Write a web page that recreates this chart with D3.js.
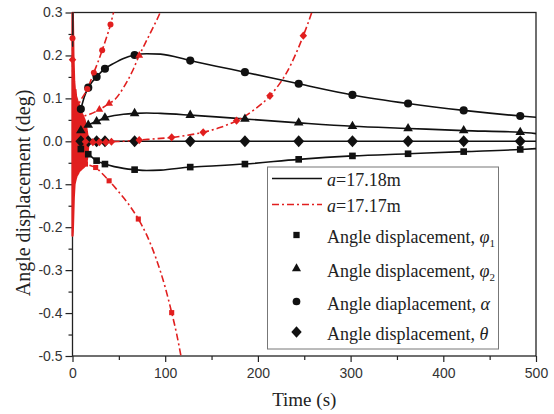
<!DOCTYPE html>
<html>
<head>
<meta charset="utf-8">
<script src="https://cdn.jsdelivr.net/npm/d3@7/dist/d3.min.js"></script>
<style>
  html, body { margin: 0; padding: 0; background: #fff; }
  svg { display: block; }
</style>
</head>
<body>
<svg id="chart" width="554" height="414"></svg>
<script>
// ---- axis ticks ----
const xTicks = [0, 100, 200, 300, 400, 500];
const xMinor = [50, 150, 250, 350, 450];
const yTicks = [-0.5, -0.4, -0.3, -0.2, -0.1, 0.0, 0.1, 0.2, 0.3];
const yMinor = [-0.45, -0.35, -0.25, -0.15, -0.05, 0.05, 0.15, 0.25];

// ---- a = 17.18 m (stable case), time in s, angles in deg ----
const timeB  = [0, 4, 9, 13, 17, 21, 26, 35, 45, 55, 67, 80, 95, 127, 155, 186, 244, 302, 362, 422, 483, 500];
const phi1B  = [0, -0.008, -0.018, -0.025, -0.030, -0.037, -0.045, -0.053, -0.059, -0.063, -0.066, -0.068, -0.067, -0.060, -0.057, -0.053, -0.042, -0.034, -0.029, -0.024, -0.019, -0.017];
const phi2B  = [0, 0.012, 0.025, 0.032, 0.038, 0.042, 0.046, 0.055, 0.060, 0.063, 0.065, 0.066, 0.065, 0.061, 0.057, 0.052, 0.043, 0.035, 0.030, 0.025, 0.021, 0.018];
const alphaB = [0, 0.035, 0.075, 0.105, 0.125, 0.138, 0.150, 0.169, 0.182, 0.193, 0.201, 0.204, 0.203, 0.188, 0.175, 0.161, 0.134, 0.108, 0.088, 0.072, 0.059, 0.056];
const thetaB = [0, 0, 0, 0, 0, 0, 0, 0, 0, 0, 0, 0, 0, 0, 0, 0, 0, 0, 0, 0, 0, 0];
const markB  = [2, 4, 6, 7, 10, 13, 15, 16, 17, 18, 19, 20];

// start-up transient of the stable case (peak just after t = 0)
const burstBT = [0.2, 0.35, 0.5];
const burstBV = [0.22, 0.33, 0.24];

// ---- a = 17.17 m (divergent case) ----
const timeRPhi1  = [3, 8, 14, 20, 25, 32, 39.5, 50, 60, 71, 80, 90, 100, 107, 112, 117, 120];
const phi1R      = [-0.045, -0.05, -0.053, -0.057, -0.061, -0.075, -0.092, -0.118, -0.145, -0.181, -0.218, -0.272, -0.34, -0.399, -0.445, -0.50, -0.535];
const markRPhi1  = [2, 4, 6, 9, 13];

const timeRPhi2  = [3, 8, 14, 20, 29, 39.5, 46, 55, 65, 72, 80, 88, 94, 99];
const phi2R      = [0.05, 0.055, 0.06, 0.064, 0.074, 0.088, 0.098, 0.125, 0.165, 0.200, 0.235, 0.27, 0.297, 0.325];
const markRPhi2  = [4, 5, 9];

const timeRAlpha = [0, 1, 5, 10, 16, 23, 27, 32, 37, 41, 44, 47];
const alphaR     = [0.24, 0.12, 0.085, 0.1, 0.122, 0.160, 0.182, 0.212, 0.244, 0.272, 0.298, 0.325];
const markRAlpha = [0, 4, 5, 7, 9];

const timeRTheta = [0, 2, 7, 14, 22, 29, 36, 42, 55, 72, 90, 107, 124, 141, 159, 177, 195, 213, 231, 249, 258, 263];
const thetaR     = [0.19, 0, 0, -0.001, -0.002, -0.002, -0.002, -0.001, 0, 0.003, 0.006, 0.009, 0.014, 0.021, 0.032, 0.048, 0.072, 0.106, 0.16, 0.246, 0.30, 0.335];
const markRTheta = [0, 3, 4, 5, 6, 7, 9, 11, 13, 15, 17, 19];

// envelope of the high-frequency start-up oscillation of the divergent case
const burstRT  = [0, 0.3, 0.6, 1.0, 1.4, 1.8, 2.2, 2.7, 3.2, 3.8, 4.5, 5.2, 6, 7, 8, 9, 10, 11, 12, 13, 14, 15, 16, 17];
const burstRHi = [0.33, 0.31, 0.26, 0.20, 0.17, 0.14, 0.13, 0.115, 0.12, 0.105, 0.1, 0.095, 0.09, 0.085, 0.075, 0.072, 0.065, 0.06, 0.055, 0.05, 0.04, 0.03, 0.015, 0.002];
const burstRLo = [-0.22, -0.21, -0.19, -0.16, -0.13, -0.115, -0.10, -0.095, -0.09, -0.085, -0.08, -0.078, -0.075, -0.07, -0.068, -0.066, -0.064, -0.062, -0.06, -0.058, -0.055, -0.05, -0.035, -0.01];

// ---- legend ----
const legendText = ["=17.18m", "=17.17m", "Angle displacement, ", "Angle displacement, ", "Angle diaplacement, ", "Angle displacement, "];

// ------------------------------------------------------------
const RED = "#e11f1f";
const svg = d3.select("#chart");
const x = d3.scaleLinear().domain([0, 500]).range([72.5, 536]);
const y = d3.scaleLinear().domain([-0.5, 0.3]).range([356, 12.5]);
const [x0, x1] = x.range();
const [yB, yT] = y.range();

const defs = svg.append("defs");
defs.append("clipPath").attr("id", "plotWide")
  .append("rect").attr("x", x0 - 6).attr("y", yT).attr("width", x1 - x0 + 6).attr("height", yB - yT);

// axes
const tickFont = "'Liberation Sans', Arial, sans-serif";
const fmt = d => d.toFixed(1);

const gx = svg.append("g").attr("transform", `translate(0,${yB})`)
  .call(d3.axisBottom(x).tickValues(xTicks).tickSize(6).tickSizeOuter(0).tickPadding(6).tickFormat(d3.format("d")));
const gxm = svg.append("g").attr("transform", `translate(0,${yB})`)
  .call(d3.axisBottom(x).tickValues(xMinor).tickSize(4).tickSizeOuter(0).tickFormat(""));
const gy = svg.append("g").attr("transform", `translate(${x0},0)`)
  .call(d3.axisLeft(y).tickValues(yTicks).tickSize(7).tickSizeOuter(0).tickPadding(3).tickFormat(fmt));
const gym = svg.append("g").attr("transform", `translate(${x0},0)`)
  .call(d3.axisLeft(y).tickValues(yMinor).tickSize(4).tickSizeOuter(0).tickFormat(""));
[gx, gxm, gy, gym].forEach(g => {
  g.select(".domain").remove();
  g.selectAll("line").attr("stroke", "#222").attr("stroke-width", 1.2);
  g.selectAll("text").attr("font-family", tickFont).attr("font-size", 14).attr("fill", "#333");
});

// frame
svg.append("rect").attr("x", x0).attr("y", yT).attr("width", x1 - x0).attr("height", yB - yT)
  .attr("fill", "none").attr("stroke", "#222").attr("stroke-width", 1.3);

// axis titles
const serif = "'Liberation Serif', 'Times New Roman', serif";
svg.append("text").attr("x", (x0 + x1) / 2).attr("y", 406).attr("text-anchor", "middle")
  .attr("font-family", serif).attr("font-size", 19).attr("fill", "#222").text("Time (s)");
svg.append("text").attr("transform", "translate(30,193) rotate(-90)").attr("text-anchor", "middle")
  .attr("font-family", serif).attr("font-size", 20).attr("fill", "#222").text("Angle displacement (deg)");

// symbols
const diamond = {
  draw(ctx, size) {
    const w = Math.sqrt(size / 2) * 1.0, h = Math.sqrt(size / 2) * 1.1;
    ctx.moveTo(0, -h); ctx.lineTo(w, 0); ctx.lineTo(0, h); ctx.lineTo(-w, 0); ctx.closePath();
  }
};
const symTypes = { phi1: d3.symbolSquare, phi2: d3.symbolTriangle, alpha: d3.symbolCircle, theta: diamond };
const symSizeB = { phi1: 44, phi2: 40, alpha: 52, theta: 60 };
const symSizeR = { phi1: 26, phi2: 26, alpha: 28, theta: 28 };

const line = d3.line().x(d => x(d[0])).y(d => y(d[1])).curve(d3.curveMonotoneX);
const zip = (t, v) => t.map((ti, i) => [ti, v[i]]);

const plot = svg.append("g").attr("clip-path", "url(#plotWide)");

// stable case lines
const blackSeries = [
  { key: "phi1", v: phi1B }, { key: "phi2", v: phi2B },
  { key: "alpha", v: alphaB }, { key: "theta", v: thetaB }
];
blackSeries.forEach(s => {
  plot.append("path").datum(zip(timeB, s.v)).attr("d", line)
    .attr("fill", "none").attr("stroke", "#111").attr("stroke-width", 1.6);
});

// red start-up oscillation band
const area = d3.area().x(d => x(d[0])).y0(d => y(d[2])).y1(d => y(d[1])).curve(d3.curveLinear);
plot.append("path")
  .datum(burstRT.map((t, i) => [t, burstRHi[i], burstRLo[i]]))
  .attr("d", area).attr("fill", RED).attr("stroke", RED).attr("stroke-width", 2.2).attr("stroke-linejoin", "round");

// divergent case lines
const redSeries = [
  { key: "phi1", t: timeRPhi1, v: phi1R, m: markRPhi1 },
  { key: "phi2", t: timeRPhi2, v: phi2R, m: markRPhi2 },
  { key: "alpha", t: timeRAlpha, v: alphaR, m: markRAlpha },
  { key: "theta", t: timeRTheta, v: thetaR, m: markRTheta }
];
redSeries.forEach(s => {
  plot.append("path").datum(zip(s.t, s.v)).attr("d", line)
    .attr("fill", "none").attr("stroke", RED).attr("stroke-width", 1.6)
    .attr("stroke-dasharray", "7,3,2,3");
});

// markers
const inRange = v => v >= -0.5 && v <= 0.3;
blackSeries.forEach(s => {
  markB.forEach(i => {
    if (!inRange(s.v[i])) return;
    svg.append("path")
      .attr("d", d3.symbol().type(symTypes[s.key]).size(symSizeB[s.key])())
      .attr("transform", `translate(${x(timeB[i])},${y(s.v[i])})`)
      .attr("fill", "#111");
  });
});
redSeries.forEach(s => {
  s.m.forEach(i => {
    if (!inRange(s.v[i])) return;
    svg.append("path")
      .attr("d", d3.symbol().type(symTypes[s.key]).size(symSizeR[s.key])())
      .attr("transform", `translate(${x(s.t[i])},${y(s.v[i])})`)
      .attr("fill", RED);
  });
});

// stable case start-up peak
plot.append("path").datum(zip(burstBT, burstBV)).attr("d", d3.line().x(d => x(d[0])).y(d => y(d[1])))
  .attr("fill", "none").attr("stroke", "#222").attr("stroke-width", 1.4);

// legend
const lg = svg.append("g");
lg.append("rect").attr("x", 267.5).attr("y", 167).attr("width", 231).attr("height", 182)
  .attr("fill", "#fff").attr("stroke", "#777").attr("stroke-width", 1);
const rowsY = [178.5, 204.5, 235, 268.5, 301.5, 332];
const textX = 327;
const keys = ["phi1", "phi2", "alpha", "theta"];
const greek = ["\u03C6", "\u03C6", "\u03B1", "\u03B8"];
const subs = ["1", "2", "", ""];

lg.append("line").attr("x1", 272).attr("x2", 322).attr("y1", rowsY[0]).attr("y2", rowsY[0])
  .attr("stroke", "#111").attr("stroke-width", 1.6);
lg.append("line").attr("x1", 272).attr("x2", 322).attr("y1", rowsY[1]).attr("y2", rowsY[1])
  .attr("stroke", RED).attr("stroke-width", 1.4).attr("stroke-dasharray", "7,3,2,3");

[0, 1].forEach(r => {
  const t = lg.append("text").attr("x", textX).attr("y", rowsY[r] + 7)
    .attr("font-family", serif).attr("font-size", 18).attr("fill", "#222");
  t.append("tspan").attr("font-style", "italic").text("a");
  t.append("tspan").text(legendText[r]);
});
keys.forEach((k, j) => {
  const r = j + 2;
  lg.append("path")
    .attr("d", d3.symbol().type(symTypes[k]).size(symSizeB[k] * 0.9)())
    .attr("transform", `translate(296.5,${rowsY[r]})`).attr("fill", "#111");
  const t = lg.append("text").attr("x", textX).attr("y", rowsY[r] + 8)
    .attr("font-family", serif).attr("font-size", 18).attr("fill", "#222");
  t.append("tspan").text(legendText[r]);
  t.append("tspan").attr("font-style", "italic").text(greek[j]);
  if (subs[j]) t.append("tspan").attr("font-size", 11).attr("dy", 4).text(subs[j]);
});
</script>
</body>
</html>
